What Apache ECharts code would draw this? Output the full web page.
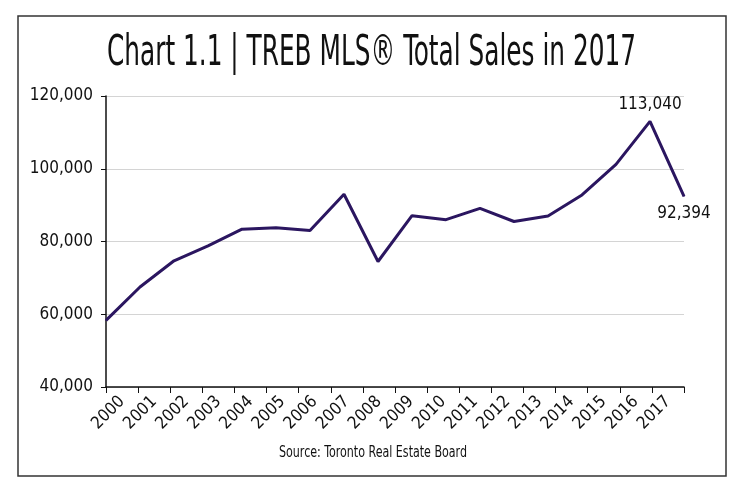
<!DOCTYPE html>
<html>
<head>
<meta charset="utf-8">
<script src="https://cdn.jsdelivr.net/npm/echarts@6/dist/echarts.min.js"></script>
<style>
  html, body { margin: 0; padding: 0; background: #fff; }
  #main { width: 752px; height: 502px; }
</style>
</head>
<body>
<div id="main"></div>
<script>
// 年份
const years = ['2000', '2001', '2002', '2003', '2004', '2005', '2006', '2007', '2008',
  '2009', '2010', '2011', '2012', '2013', '2014', '2015', '2016', '2017'];
// 总销售量
const sales = [58300, 67500, 74700, 78800, 83400, 83800, 83000, 93000, 74500,
  87100, 86000, 89100, 85500, 87000, 92800, 101200, 113040, 92394];
// 需要标注的点
const labelled = { 16: 'top', 17: 'bottom' };

const titleText = 'Chart 1.1 | TREB MLS® Total Sales in 2017';
const sourceText = 'Source: Toronto Real Estate Board';

const narrow = "'Liberation Sans Narrow', 'DejaVu Sans Condensed', sans-serif";
const lineColor = '#2b1660';

// 用画布量文字宽度，好把字压窄
function fitScale(text, size, target) {
  const ctx = document.createElement('canvas').getContext('2d');
  ctx.font = size + 'px ' + narrow;
  return target / ctx.measureText(text).width;
}

const chart = echarts.init(document.getElementById('main'));

const option = {
  animation: false,
  backgroundColor: '#fff',
  grid: { left: 106, right: 68, top: 96, bottom: 115 },
  xAxis: [
    {
      // 折线用的轴，点落在刻度上
      type: 'category',
      data: years,
      boundaryGap: false,
      axisLine: { show: false },
      axisTick: { show: false },
      axisLabel: { show: false }
    },
    {
      // 显示用的轴，标签在刻度之间
      type: 'category',
      data: years,
      position: 'bottom',
      boundaryGap: true,
      axisLine: { show: true, lineStyle: { color: '#111', width: 1.5 } },
      axisTick: { show: true, lineStyle: { color: '#111' }, length: 6 },
      axisLabel: {
        rotate: 45, margin: 12, fontFamily: narrow, fontSize: 17, color: '#111'
      }
    }
  ],
  yAxis: {
    type: 'value',
    min: 40000, max: 120000, interval: 20000,
    axisLine: { show: true, lineStyle: { color: '#111', width: 1.5 } },
    axisTick: { show: true, inside: false, length: 5, lineStyle: { color: '#111' } },
    splitLine: { lineStyle: { color: '#d4d4d4', width: 1 } },
    axisLabel: {
      margin: 13, fontFamily: narrow, fontSize: 17, color: '#111',
      formatter: v => v.toLocaleString('en-US')
    }
  },
  series: [{
    type: 'line',
    xAxisIndex: 0,
    data: sales.map((v, i) => ({
      value: v,
      label: labelled[i] ? {
        show: true, position: labelled[i], distance: 8,
        fontFamily: narrow, fontSize: 17, color: '#111',
        formatter: p => p.value.toLocaleString('en-US')
      } : { show: false }
    })),
    symbol: 'circle',
    symbolSize: 1,
    itemStyle: { color: lineColor },
    lineStyle: { color: lineColor, width: 3 },
    z: 3
  }],
  graphic: [
    {
      type: 'rect',
      shape: { x: 18, y: 16, width: 708, height: 460 },
      style: { fill: 'none', stroke: '#333', lineWidth: 1.5 },
      silent: true
    },
    {
      type: 'text',
      x: 107, y: 33,
      scaleX: fitScale(titleText, 42, 529),
      style: {
        text: titleText,
        fontFamily: narrow, fontSize: 42, fill: '#111'
      },
      silent: true
    },
    {
      type: 'text',
      x: 279, y: 445,
      scaleX: fitScale(sourceText, 16, 188),
      style: {
        text: sourceText,
        fontFamily: narrow, fontSize: 16, fill: '#111'
      },
      silent: true
    }
  ]
};

chart.setOption(option);
</script>
</body>
</html>
